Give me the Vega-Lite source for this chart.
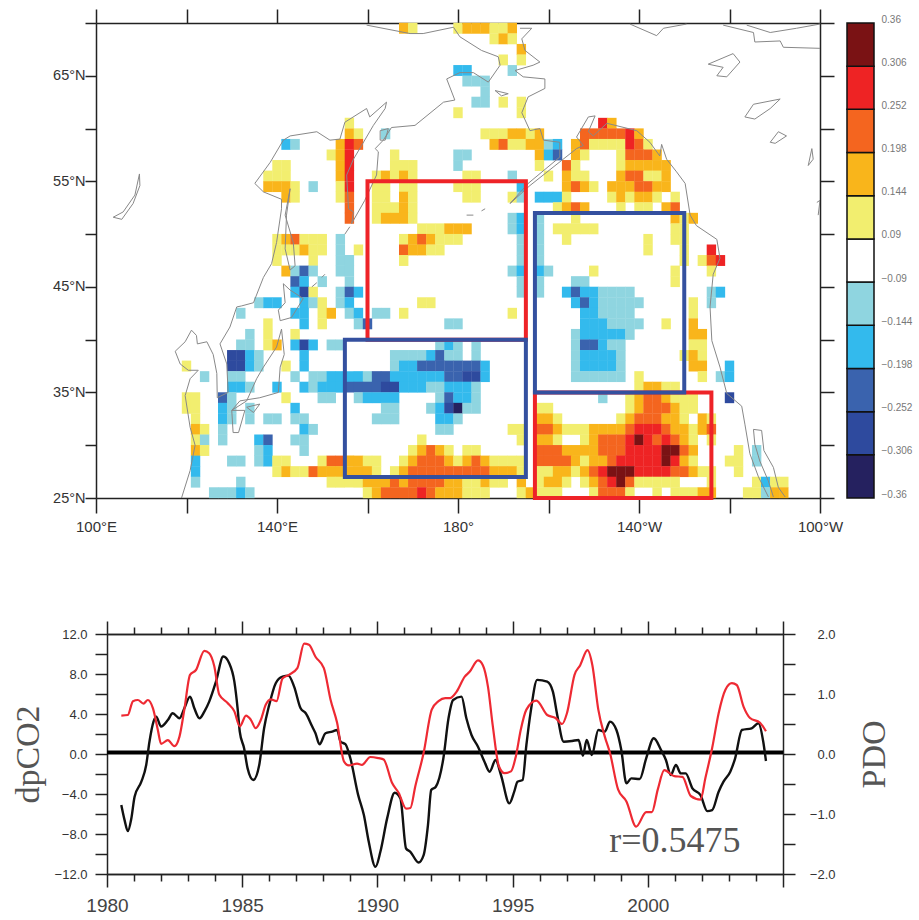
{"$schema":"https://vega.github.io/schema/vega-lite/v6.json","background":"white","padding":{"left":11,"top":8,"right":5,"bottom":5},"bounds":"flush","columns":2,"spacing":{"row":136,"column":27},"config":{"view":{"stroke":null},"axis":{"grid":false,"title":null,"labelFont":"Liberation Sans","domainColor":"#222","tickColor":"#222","domainWidth":1.5,"tickWidth":1.5,"labelFlush":false,"labelOverlap":false,"labelBound":false}},
"concat":[{"width":724,"height":475,"resolve":{"axis":{"x":"independent","y":"independent"}},"layer":[
{"data":{"values":[
{"x":168,"y":69.5,"v":0.17},{"x":170,"y":69.5,"v":0.12},{"x":180,"y":69.5,"v":0.12},{"x":182,"y":69.5,"v":0.17},{"x":184,"y":69.5,"v":0.17},{"x":186,"y":69.5,"v":0.17},{"x":188,"y":69.5,"v":0.12},{"x":190,"y":69.5,"v":0.12},{"x":192,"y":69.5,"v":0.17},
{"x":188,"y":68.5,"v":0.12},{"x":190,"y":68.5,"v":0.17},{"x":192,"y":68.5,"v":0.12},{"x":194,"y":67.5,"v":0.17},{"x":190,"y":66.5,"v":0.12},{"x":194,"y":66.5,"v":0.12},
{"x":180,"y":65.5,"v":-0.17},{"x":182,"y":65.5,"v":-0.17},{"x":192,"y":65.5,"v":-0.12},{"x":182,"y":64.5,"v":-0.12},{"x":184,"y":64.5,"v":-0.12},{"x":186,"y":64.5,"v":-0.12},{"x":186,"y":63.5,"v":-0.12},{"x":184,"y":62.5,"v":-0.12},{"x":186,"y":62.5,"v":-0.12},{"x":190,"y":62.5,"v":0.12},{"x":194,"y":62.5,"v":0.12},{"x":180,"y":61.5,"v":0.12},{"x":194,"y":61.5,"v":0.12},
{"x":156,"y":60.5,"v":0.12},{"x":212,"y":60.5,"v":0.28},{"x":214,"y":60.5,"v":0.17},
{"x":156,"y":59.5,"v":0.17},{"x":158,"y":59.5,"v":0.12},{"x":164,"y":59.5,"v":-0.12},{"x":186,"y":59.5,"v":0.12},{"x":188,"y":59.5,"v":0.12},{"x":190,"y":59.5,"v":0.12},{"x":192,"y":59.5,"v":0.17},{"x":194,"y":59.5,"v":0.17},{"x":196,"y":59.5,"v":0.12},{"x":198,"y":59.5,"v":0.17},{"x":208,"y":59.5,"v":0.22},{"x":210,"y":59.5,"v":0.22},{"x":212,"y":59.5,"v":0.22},{"x":214,"y":59.5,"v":0.22},{"x":216,"y":59.5,"v":0.22},{"x":218,"y":59.5,"v":0.28},{"x":220,"y":59.5,"v":0.17},
{"x":142,"y":58.5,"v":-0.17},{"x":144,"y":58.5,"v":-0.12},{"x":154,"y":58.5,"v":0.17},{"x":156,"y":58.5,"v":0.28},{"x":158,"y":58.5,"v":0.22},{"x":188,"y":58.5,"v":0.17},{"x":190,"y":58.5,"v":0.22},{"x":192,"y":58.5,"v":0.12},{"x":194,"y":58.5,"v":0.12},{"x":196,"y":58.5,"v":0.17},{"x":198,"y":58.5,"v":0.17},{"x":200,"y":58.5,"v":-0.12},{"x":202,"y":58.5,"v":-0.17},{"x":206,"y":58.5,"v":0.17},{"x":208,"y":58.5,"v":0.22},{"x":210,"y":58.5,"v":0.12},{"x":212,"y":58.5,"v":0.12},{"x":214,"y":58.5,"v":0.12},{"x":216,"y":58.5,"v":0.12},{"x":218,"y":58.5,"v":0.28},{"x":220,"y":58.5,"v":0.22},{"x":222,"y":58.5,"v":0.12},
{"x":152,"y":57.5,"v":0.12},{"x":154,"y":57.5,"v":0.17},{"x":156,"y":57.5,"v":0.28},{"x":166,"y":57.5,"v":0.12},{"x":180,"y":57.5,"v":-0.12},{"x":182,"y":57.5,"v":-0.12},{"x":198,"y":57.5,"v":0.17},{"x":200,"y":57.5,"v":-0.17},{"x":202,"y":57.5,"v":-0.22},{"x":206,"y":57.5,"v":0.17},{"x":208,"y":57.5,"v":0.12},{"x":216,"y":57.5,"v":0.12},{"x":218,"y":57.5,"v":0.22},{"x":220,"y":57.5,"v":0.22},{"x":222,"y":57.5,"v":0.22},{"x":224,"y":57.5,"v":0.17},
{"x":140,"y":56.5,"v":0.12},{"x":142,"y":56.5,"v":0.12},{"x":154,"y":56.5,"v":0.17},{"x":156,"y":56.5,"v":0.28},{"x":166,"y":56.5,"v":0.12},{"x":168,"y":56.5,"v":0.12},{"x":170,"y":56.5,"v":0.12},{"x":180,"y":56.5,"v":-0.12},{"x":198,"y":56.5,"v":0.12},{"x":204,"y":56.5,"v":0.22},{"x":206,"y":56.5,"v":0.12},{"x":216,"y":56.5,"v":0.12},{"x":218,"y":56.5,"v":0.17},{"x":220,"y":56.5,"v":0.17},{"x":222,"y":56.5,"v":0.17},{"x":224,"y":56.5,"v":0.17},{"x":226,"y":56.5,"v":0.17},
{"x":138,"y":55.5,"v":0.12},{"x":140,"y":55.5,"v":0.12},{"x":142,"y":55.5,"v":0.12},{"x":154,"y":55.5,"v":0.17},{"x":156,"y":55.5,"v":0.28},{"x":162,"y":55.5,"v":0.12},{"x":164,"y":55.5,"v":0.17},{"x":166,"y":55.5,"v":0.12},{"x":168,"y":55.5,"v":0.17},{"x":170,"y":55.5,"v":0.12},{"x":182,"y":55.5,"v":0.12},{"x":184,"y":55.5,"v":0.12},{"x":192,"y":55.5,"v":-0.12},{"x":200,"y":55.5,"v":0.12},{"x":204,"y":55.5,"v":0.17},{"x":206,"y":55.5,"v":0.12},{"x":208,"y":55.5,"v":0.12},{"x":216,"y":55.5,"v":0.17},{"x":218,"y":55.5,"v":0.22},{"x":220,"y":55.5,"v":0.22},{"x":222,"y":55.5,"v":0.12},{"x":224,"y":55.5,"v":0.12},{"x":226,"y":55.5,"v":0.17},
{"x":138,"y":54.5,"v":0.17},{"x":140,"y":54.5,"v":0.17},{"x":142,"y":54.5,"v":0.17},{"x":144,"y":54.5,"v":0.12},{"x":148,"y":54.5,"v":-0.12},{"x":154,"y":54.5,"v":0.12},{"x":156,"y":54.5,"v":0.28},{"x":162,"y":54.5,"v":0.12},{"x":164,"y":54.5,"v":0.12},{"x":168,"y":54.5,"v":0.12},{"x":170,"y":54.5,"v":0.12},{"x":180,"y":54.5,"v":0.12},{"x":182,"y":54.5,"v":0.12},{"x":184,"y":54.5,"v":0.12},{"x":194,"y":54.5,"v":-0.17},{"x":204,"y":54.5,"v":0.17},{"x":206,"y":54.5,"v":0.22},{"x":208,"y":54.5,"v":0.17},{"x":210,"y":54.5,"v":0.12},{"x":214,"y":54.5,"v":0.17},{"x":216,"y":54.5,"v":0.17},{"x":218,"y":54.5,"v":0.17},{"x":220,"y":54.5,"v":0.22},{"x":222,"y":54.5,"v":0.22},{"x":224,"y":54.5,"v":0.17},{"x":226,"y":54.5,"v":0.17},
{"x":142,"y":53.5,"v":0.17},{"x":144,"y":53.5,"v":0.12},{"x":154,"y":53.5,"v":0.12},{"x":156,"y":53.5,"v":0.22},{"x":162,"y":53.5,"v":0.12},{"x":164,"y":53.5,"v":0.12},{"x":168,"y":53.5,"v":0.17},{"x":170,"y":53.5,"v":0.12},{"x":182,"y":53.5,"v":0.12},{"x":184,"y":53.5,"v":0.12},{"x":192,"y":53.5,"v":0.12},{"x":194,"y":53.5,"v":-0.12},{"x":198,"y":53.5,"v":-0.17},{"x":200,"y":53.5,"v":-0.17},{"x":202,"y":53.5,"v":-0.17},{"x":204,"y":53.5,"v":0.12},{"x":214,"y":53.5,"v":0.12},{"x":216,"y":53.5,"v":0.17},{"x":218,"y":53.5,"v":0.12},{"x":220,"y":53.5,"v":0.17},{"x":222,"y":53.5,"v":0.17},{"x":224,"y":53.5,"v":0.12},{"x":228,"y":53.5,"v":0.12},
{"x":156,"y":52.5,"v":0.22},{"x":162,"y":52.5,"v":0.12},{"x":164,"y":52.5,"v":0.12},{"x":166,"y":52.5,"v":0.12},{"x":168,"y":52.5,"v":0.17},{"x":170,"y":52.5,"v":0.12},{"x":202,"y":52.5,"v":0.12},{"x":204,"y":52.5,"v":0.17},{"x":206,"y":52.5,"v":0.22},{"x":208,"y":52.5,"v":0.17},{"x":216,"y":52.5,"v":0.12},{"x":220,"y":52.5,"v":0.12},{"x":222,"y":52.5,"v":0.12},{"x":226,"y":52.5,"v":0.17},{"x":228,"y":52.5,"v":0.22},
{"x":156,"y":51.5,"v":0.22},{"x":162,"y":51.5,"v":0.12},{"x":164,"y":51.5,"v":0.17},{"x":166,"y":51.5,"v":0.17},{"x":168,"y":51.5,"v":0.17},{"x":170,"y":51.5,"v":0.12},{"x":192,"y":51.5,"v":-0.12},{"x":194,"y":51.5,"v":-0.17},{"x":198,"y":51.5,"v":-0.12},{"x":206,"y":51.5,"v":0.12},{"x":228,"y":51.5,"v":0.17},{"x":230,"y":51.5,"v":0.12},{"x":232,"y":51.5,"v":0.17},
{"x":172,"y":50.5,"v":0.12},{"x":174,"y":50.5,"v":0.12},{"x":176,"y":50.5,"v":0.12},{"x":178,"y":50.5,"v":0.17},{"x":180,"y":50.5,"v":0.17},{"x":182,"y":50.5,"v":0.17},{"x":192,"y":50.5,"v":-0.12},{"x":194,"y":50.5,"v":-0.17},{"x":198,"y":50.5,"v":-0.12},{"x":202,"y":50.5,"v":0.12},{"x":204,"y":50.5,"v":0.12},{"x":206,"y":50.5,"v":0.12},{"x":208,"y":50.5,"v":0.12},{"x":210,"y":50.5,"v":0.12},{"x":228,"y":50.5,"v":0.12},{"x":230,"y":50.5,"v":0.12},
{"x":140,"y":49.5,"v":0.12},{"x":142,"y":49.5,"v":0.17},{"x":144,"y":49.5,"v":0.22},{"x":146,"y":49.5,"v":0.12},{"x":148,"y":49.5,"v":0.12},{"x":150,"y":49.5,"v":0.12},{"x":154,"y":49.5,"v":-0.12},{"x":168,"y":49.5,"v":0.12},{"x":170,"y":49.5,"v":0.17},{"x":172,"y":49.5,"v":0.22},{"x":174,"y":49.5,"v":0.17},{"x":176,"y":49.5,"v":0.12},{"x":178,"y":49.5,"v":0.12},{"x":180,"y":49.5,"v":0.12},{"x":194,"y":49.5,"v":-0.12},{"x":198,"y":49.5,"v":-0.12},{"x":204,"y":49.5,"v":0.12},{"x":222,"y":49.5,"v":0.12},{"x":228,"y":49.5,"v":0.12},{"x":230,"y":49.5,"v":0.12},
{"x":140,"y":48.5,"v":0.12},{"x":142,"y":48.5,"v":0.12},{"x":144,"y":48.5,"v":0.12},{"x":146,"y":48.5,"v":0.17},{"x":148,"y":48.5,"v":0.12},{"x":150,"y":48.5,"v":0.12},{"x":154,"y":48.5,"v":-0.12},{"x":158,"y":48.5,"v":0.12},{"x":168,"y":48.5,"v":0.22},{"x":170,"y":48.5,"v":0.17},{"x":172,"y":48.5,"v":0.17},{"x":174,"y":48.5,"v":0.12},{"x":176,"y":48.5,"v":0.12},{"x":194,"y":48.5,"v":-0.12},{"x":198,"y":48.5,"v":-0.12},{"x":222,"y":48.5,"v":0.12},{"x":230,"y":48.5,"v":0.12},{"x":236,"y":48.5,"v":0.28},
{"x":140,"y":47.5,"v":0.12},{"x":148,"y":47.5,"v":0.12},{"x":154,"y":47.5,"v":-0.12},{"x":156,"y":47.5,"v":-0.12},{"x":168,"y":47.5,"v":0.12},{"x":194,"y":47.5,"v":-0.12},{"x":198,"y":47.5,"v":-0.12},{"x":230,"y":47.5,"v":0.12},{"x":234,"y":47.5,"v":0.12},{"x":236,"y":47.5,"v":0.22},{"x":238,"y":47.5,"v":0.28},
{"x":142,"y":46.5,"v":0.17},{"x":144,"y":46.5,"v":-0.12},{"x":146,"y":46.5,"v":-0.22},{"x":148,"y":46.5,"v":-0.12},{"x":154,"y":46.5,"v":-0.12},{"x":156,"y":46.5,"v":-0.12},{"x":192,"y":46.5,"v":-0.12},{"x":194,"y":46.5,"v":-0.17},{"x":198,"y":46.5,"v":-0.17},{"x":200,"y":46.5,"v":-0.12},{"x":210,"y":46.5,"v":0.12},{"x":228,"y":46.5,"v":0.12},{"x":236,"y":46.5,"v":0.12},
{"x":144,"y":45.5,"v":-0.22},{"x":146,"y":45.5,"v":-0.17},{"x":150,"y":45.5,"v":-0.12},{"x":156,"y":45.5,"v":-0.12},{"x":194,"y":45.5,"v":-0.12},{"x":198,"y":45.5,"v":-0.12},{"x":206,"y":45.5,"v":-0.12},{"x":208,"y":45.5,"v":-0.12},{"x":228,"y":45.5,"v":0.12},
{"x":144,"y":44.5,"v":-0.17},{"x":146,"y":44.5,"v":-0.28},{"x":148,"y":44.5,"v":0.12},{"x":154,"y":44.5,"v":-0.12},{"x":156,"y":44.5,"v":-0.22},{"x":158,"y":44.5,"v":-0.17},{"x":194,"y":44.5,"v":-0.12},{"x":198,"y":44.5,"v":-0.12},{"x":204,"y":44.5,"v":-0.17},{"x":206,"y":44.5,"v":-0.22},{"x":208,"y":44.5,"v":-0.17},{"x":210,"y":44.5,"v":-0.17},{"x":212,"y":44.5,"v":-0.12},{"x":214,"y":44.5,"v":-0.12},{"x":216,"y":44.5,"v":-0.12},{"x":218,"y":44.5,"v":-0.12},{"x":236,"y":44.5,"v":-0.12},{"x":238,"y":44.5,"v":-0.17},
{"x":136,"y":43.5,"v":-0.12},{"x":138,"y":43.5,"v":-0.17},{"x":140,"y":43.5,"v":-0.17},{"x":146,"y":43.5,"v":-0.17},{"x":148,"y":43.5,"v":-0.12},{"x":150,"y":43.5,"v":0.12},{"x":154,"y":43.5,"v":-0.12},{"x":156,"y":43.5,"v":-0.17},{"x":172,"y":43.5,"v":0.12},{"x":174,"y":43.5,"v":0.12},{"x":206,"y":43.5,"v":-0.17},{"x":208,"y":43.5,"v":-0.22},{"x":210,"y":43.5,"v":-0.17},{"x":212,"y":43.5,"v":-0.12},{"x":214,"y":43.5,"v":-0.12},{"x":216,"y":43.5,"v":-0.12},{"x":218,"y":43.5,"v":-0.12},{"x":220,"y":43.5,"v":-0.12},{"x":232,"y":43.5,"v":0.12},{"x":236,"y":43.5,"v":-0.12},
{"x":132,"y":42.5,"v":-0.12},{"x":144,"y":42.5,"v":-0.17},{"x":146,"y":42.5,"v":-0.17},{"x":150,"y":42.5,"v":0.12},{"x":152,"y":42.5,"v":0.17},{"x":156,"y":42.5,"v":-0.12},{"x":158,"y":42.5,"v":-0.17},{"x":162,"y":42.5,"v":-0.12},{"x":164,"y":42.5,"v":-0.12},{"x":168,"y":42.5,"v":0.12},{"x":192,"y":42.5,"v":0.12},{"x":208,"y":42.5,"v":-0.17},{"x":210,"y":42.5,"v":-0.17},{"x":212,"y":42.5,"v":-0.12},{"x":214,"y":42.5,"v":-0.12},{"x":216,"y":42.5,"v":-0.12},{"x":218,"y":42.5,"v":-0.12},{"x":232,"y":42.5,"v":0.12},
{"x":138,"y":41.5,"v":0.12},{"x":146,"y":41.5,"v":-0.17},{"x":150,"y":41.5,"v":0.12},{"x":158,"y":41.5,"v":-0.12},{"x":160,"y":41.5,"v":-0.22},{"x":178,"y":41.5,"v":-0.12},{"x":180,"y":41.5,"v":-0.12},{"x":208,"y":41.5,"v":-0.17},{"x":210,"y":41.5,"v":-0.17},{"x":212,"y":41.5,"v":-0.17},{"x":214,"y":41.5,"v":-0.12},{"x":216,"y":41.5,"v":-0.12},{"x":218,"y":41.5,"v":-0.12},{"x":220,"y":41.5,"v":-0.12},{"x":226,"y":41.5,"v":0.12},{"x":232,"y":41.5,"v":0.17},
{"x":134,"y":40.5,"v":-0.12},{"x":138,"y":40.5,"v":0.12},{"x":144,"y":40.5,"v":0.12},{"x":206,"y":40.5,"v":-0.12},{"x":208,"y":40.5,"v":-0.17},{"x":210,"y":40.5,"v":-0.17},{"x":212,"y":40.5,"v":-0.17},{"x":214,"y":40.5,"v":-0.17},{"x":216,"y":40.5,"v":-0.17},{"x":218,"y":40.5,"v":-0.12},{"x":232,"y":40.5,"v":0.17},{"x":234,"y":40.5,"v":0.17},
{"x":132,"y":39.5,"v":-0.12},{"x":134,"y":39.5,"v":-0.12},{"x":138,"y":39.5,"v":0.12},{"x":140,"y":39.5,"v":0.17},{"x":144,"y":39.5,"v":-0.17},{"x":146,"y":39.5,"v":-0.28},{"x":148,"y":39.5,"v":-0.17},{"x":152,"y":39.5,"v":-0.12},{"x":154,"y":39.5,"v":-0.12},{"x":176,"y":39.5,"v":-0.12},{"x":178,"y":39.5,"v":-0.17},{"x":180,"y":39.5,"v":-0.12},{"x":184,"y":39.5,"v":-0.12},{"x":206,"y":39.5,"v":-0.12},{"x":208,"y":39.5,"v":-0.22},{"x":210,"y":39.5,"v":-0.22},{"x":212,"y":39.5,"v":-0.17},{"x":214,"y":39.5,"v":-0.12},{"x":216,"y":39.5,"v":-0.12},{"x":232,"y":39.5,"v":0.12},{"x":234,"y":39.5,"v":0.12},
{"x":130,"y":38.5,"v":-0.28},{"x":132,"y":38.5,"v":-0.28},{"x":134,"y":38.5,"v":-0.17},{"x":136,"y":38.5,"v":-0.12},{"x":146,"y":38.5,"v":-0.17},{"x":166,"y":38.5,"v":-0.12},{"x":168,"y":38.5,"v":-0.12},{"x":170,"y":38.5,"v":-0.12},{"x":172,"y":38.5,"v":-0.12},{"x":174,"y":38.5,"v":-0.17},{"x":176,"y":38.5,"v":-0.22},{"x":178,"y":38.5,"v":-0.12},{"x":180,"y":38.5,"v":-0.12},{"x":184,"y":38.5,"v":-0.12},{"x":206,"y":38.5,"v":-0.12},{"x":208,"y":38.5,"v":-0.17},{"x":210,"y":38.5,"v":-0.17},{"x":212,"y":38.5,"v":-0.17},{"x":214,"y":38.5,"v":-0.17},{"x":216,"y":38.5,"v":-0.12},{"x":230,"y":38.5,"v":0.12},{"x":232,"y":38.5,"v":0.17},{"x":234,"y":38.5,"v":0.12},
{"x":120,"y":37.5,"v":0.12},{"x":130,"y":37.5,"v":-0.28},{"x":132,"y":37.5,"v":-0.28},{"x":134,"y":37.5,"v":-0.17},{"x":136,"y":37.5,"v":-0.12},{"x":142,"y":37.5,"v":0.12},{"x":146,"y":37.5,"v":-0.17},{"x":166,"y":37.5,"v":-0.12},{"x":168,"y":37.5,"v":-0.17},{"x":170,"y":37.5,"v":-0.17},{"x":172,"y":37.5,"v":-0.22},{"x":174,"y":37.5,"v":-0.22},{"x":176,"y":37.5,"v":-0.22},{"x":178,"y":37.5,"v":-0.22},{"x":180,"y":37.5,"v":-0.22},{"x":182,"y":37.5,"v":-0.22},{"x":184,"y":37.5,"v":-0.22},{"x":186,"y":37.5,"v":-0.17},{"x":206,"y":37.5,"v":-0.12},{"x":208,"y":37.5,"v":-0.17},{"x":210,"y":37.5,"v":-0.17},{"x":212,"y":37.5,"v":-0.17},{"x":214,"y":37.5,"v":-0.17},{"x":216,"y":37.5,"v":-0.12},{"x":232,"y":37.5,"v":0.17},{"x":234,"y":37.5,"v":0.17},{"x":240,"y":37.5,"v":-0.17},
{"x":124,"y":36.5,"v":-0.12},{"x":130,"y":36.5,"v":-0.12},{"x":132,"y":36.5,"v":-0.12},{"x":144,"y":36.5,"v":-0.12},{"x":148,"y":36.5,"v":-0.12},{"x":150,"y":36.5,"v":-0.12},{"x":152,"y":36.5,"v":-0.17},{"x":154,"y":36.5,"v":-0.17},{"x":156,"y":36.5,"v":-0.17},{"x":158,"y":36.5,"v":-0.17},{"x":160,"y":36.5,"v":-0.12},{"x":162,"y":36.5,"v":-0.22},{"x":164,"y":36.5,"v":-0.22},{"x":166,"y":36.5,"v":-0.17},{"x":168,"y":36.5,"v":-0.17},{"x":170,"y":36.5,"v":-0.17},{"x":172,"y":36.5,"v":-0.17},{"x":174,"y":36.5,"v":-0.17},{"x":176,"y":36.5,"v":-0.17},{"x":178,"y":36.5,"v":-0.22},{"x":180,"y":36.5,"v":-0.22},{"x":182,"y":36.5,"v":-0.28},{"x":184,"y":36.5,"v":-0.28},{"x":186,"y":36.5,"v":-0.17},{"x":206,"y":36.5,"v":-0.12},{"x":208,"y":36.5,"v":-0.12},{"x":210,"y":36.5,"v":-0.12},{"x":212,"y":36.5,"v":-0.12},{"x":214,"y":36.5,"v":-0.12},{"x":216,"y":36.5,"v":-0.12},{"x":220,"y":36.5,"v":0.12},{"x":234,"y":36.5,"v":0.12},{"x":238,"y":36.5,"v":-0.12},{"x":240,"y":36.5,"v":-0.17},
{"x":130,"y":35.5,"v":-0.17},{"x":132,"y":35.5,"v":-0.17},{"x":134,"y":35.5,"v":-0.12},{"x":140,"y":35.5,"v":-0.17},{"x":146,"y":35.5,"v":-0.17},{"x":148,"y":35.5,"v":-0.12},{"x":150,"y":35.5,"v":-0.17},{"x":152,"y":35.5,"v":-0.17},{"x":154,"y":35.5,"v":-0.17},{"x":156,"y":35.5,"v":-0.22},{"x":158,"y":35.5,"v":-0.22},{"x":160,"y":35.5,"v":-0.22},{"x":162,"y":35.5,"v":-0.22},{"x":164,"y":35.5,"v":-0.28},{"x":166,"y":35.5,"v":-0.28},{"x":168,"y":35.5,"v":-0.17},{"x":170,"y":35.5,"v":-0.17},{"x":172,"y":35.5,"v":-0.17},{"x":174,"y":35.5,"v":-0.12},{"x":176,"y":35.5,"v":-0.12},{"x":178,"y":35.5,"v":-0.17},{"x":180,"y":35.5,"v":-0.17},{"x":182,"y":35.5,"v":-0.17},{"x":184,"y":35.5,"v":-0.12},{"x":220,"y":35.5,"v":0.12},{"x":222,"y":35.5,"v":0.17},{"x":224,"y":35.5,"v":0.17},{"x":226,"y":35.5,"v":0.12},{"x":228,"y":35.5,"v":0.12},
{"x":120,"y":34.5,"v":0.12},{"x":122,"y":34.5,"v":0.12},{"x":128,"y":34.5,"v":-0.22},{"x":130,"y":34.5,"v":-0.12},{"x":142,"y":34.5,"v":0.12},{"x":150,"y":34.5,"v":-0.12},{"x":152,"y":34.5,"v":-0.12},{"x":158,"y":34.5,"v":-0.12},{"x":160,"y":34.5,"v":-0.17},{"x":162,"y":34.5,"v":-0.17},{"x":164,"y":34.5,"v":-0.17},{"x":166,"y":34.5,"v":-0.17},{"x":176,"y":34.5,"v":-0.12},{"x":178,"y":34.5,"v":-0.22},{"x":180,"y":34.5,"v":-0.17},{"x":182,"y":34.5,"v":-0.17},{"x":184,"y":34.5,"v":-0.12},{"x":212,"y":34.5,"v":-0.12},{"x":218,"y":34.5,"v":0.12},{"x":220,"y":34.5,"v":0.17},{"x":222,"y":34.5,"v":0.22},{"x":224,"y":34.5,"v":0.22},{"x":226,"y":34.5,"v":0.17},{"x":228,"y":34.5,"v":0.12},{"x":230,"y":34.5,"v":0.12},{"x":232,"y":34.5,"v":0.12},{"x":240,"y":34.5,"v":-0.28},
{"x":120,"y":33.5,"v":0.12},{"x":122,"y":33.5,"v":0.12},{"x":128,"y":33.5,"v":-0.17},{"x":130,"y":33.5,"v":-0.12},{"x":134,"y":33.5,"v":-0.12},{"x":144,"y":33.5,"v":-0.17},{"x":164,"y":33.5,"v":-0.12},{"x":166,"y":33.5,"v":-0.12},{"x":174,"y":33.5,"v":-0.12},{"x":176,"y":33.5,"v":-0.17},{"x":178,"y":33.5,"v":-0.28},{"x":180,"y":33.5,"v":-0.33},{"x":182,"y":33.5,"v":-0.12},{"x":184,"y":33.5,"v":-0.12},{"x":198,"y":33.5,"v":0.12},{"x":200,"y":33.5,"v":0.12},{"x":218,"y":33.5,"v":0.12},{"x":220,"y":33.5,"v":0.17},{"x":222,"y":33.5,"v":0.22},{"x":224,"y":33.5,"v":0.22},{"x":226,"y":33.5,"v":0.22},{"x":228,"y":33.5,"v":0.17},{"x":230,"y":33.5,"v":0.12},{"x":232,"y":33.5,"v":0.12},
{"x":122,"y":32.5,"v":0.12},{"x":128,"y":32.5,"v":-0.17},{"x":130,"y":32.5,"v":-0.12},{"x":134,"y":32.5,"v":-0.12},{"x":138,"y":32.5,"v":-0.12},{"x":140,"y":32.5,"v":-0.12},{"x":144,"y":32.5,"v":-0.12},{"x":146,"y":32.5,"v":-0.12},{"x":162,"y":32.5,"v":-0.12},{"x":164,"y":32.5,"v":-0.12},{"x":166,"y":32.5,"v":-0.12},{"x":176,"y":32.5,"v":-0.17},{"x":178,"y":32.5,"v":-0.17},{"x":180,"y":32.5,"v":-0.12},{"x":198,"y":32.5,"v":0.17},{"x":200,"y":32.5,"v":0.17},{"x":202,"y":32.5,"v":0.12},{"x":216,"y":32.5,"v":0.12},{"x":218,"y":32.5,"v":0.17},{"x":220,"y":32.5,"v":0.22},{"x":222,"y":32.5,"v":0.22},{"x":224,"y":32.5,"v":0.22},{"x":226,"y":32.5,"v":0.17},{"x":228,"y":32.5,"v":0.17},{"x":230,"y":32.5,"v":0.12},{"x":234,"y":32.5,"v":0.17},{"x":236,"y":32.5,"v":0.12},
{"x":122,"y":31.5,"v":0.17},{"x":124,"y":31.5,"v":0.12},{"x":128,"y":31.5,"v":-0.12},{"x":146,"y":31.5,"v":-0.17},{"x":148,"y":31.5,"v":-0.12},{"x":176,"y":31.5,"v":-0.12},{"x":178,"y":31.5,"v":-0.12},{"x":192,"y":31.5,"v":0.12},{"x":194,"y":31.5,"v":0.12},{"x":198,"y":31.5,"v":0.22},{"x":200,"y":31.5,"v":0.22},{"x":202,"y":31.5,"v":0.17},{"x":204,"y":31.5,"v":0.12},{"x":206,"y":31.5,"v":0.12},{"x":208,"y":31.5,"v":0.12},{"x":210,"y":31.5,"v":0.17},{"x":212,"y":31.5,"v":0.17},{"x":214,"y":31.5,"v":0.17},{"x":216,"y":31.5,"v":0.17},{"x":218,"y":31.5,"v":0.22},{"x":220,"y":31.5,"v":0.28},{"x":222,"y":31.5,"v":0.28},{"x":224,"y":31.5,"v":0.28},{"x":226,"y":31.5,"v":0.22},{"x":228,"y":31.5,"v":0.17},{"x":230,"y":31.5,"v":0.17},{"x":232,"y":31.5,"v":0.12},{"x":234,"y":31.5,"v":0.17},{"x":236,"y":31.5,"v":0.22},
{"x":122,"y":30.5,"v":0.12},{"x":124,"y":30.5,"v":-0.12},{"x":128,"y":30.5,"v":-0.12},{"x":136,"y":30.5,"v":-0.17},{"x":138,"y":30.5,"v":-0.22},{"x":144,"y":30.5,"v":-0.12},{"x":146,"y":30.5,"v":-0.12},{"x":172,"y":30.5,"v":0.12},{"x":194,"y":30.5,"v":0.12},{"x":198,"y":30.5,"v":0.17},{"x":200,"y":30.5,"v":0.17},{"x":202,"y":30.5,"v":0.12},{"x":208,"y":30.5,"v":0.12},{"x":210,"y":30.5,"v":0.17},{"x":212,"y":30.5,"v":0.22},{"x":214,"y":30.5,"v":0.22},{"x":216,"y":30.5,"v":0.22},{"x":218,"y":30.5,"v":0.28},{"x":220,"y":30.5,"v":0.33},{"x":222,"y":30.5,"v":0.28},{"x":224,"y":30.5,"v":0.22},{"x":226,"y":30.5,"v":0.28},{"x":228,"y":30.5,"v":0.22},{"x":230,"y":30.5,"v":0.17},{"x":232,"y":30.5,"v":0.12},{"x":236,"y":30.5,"v":0.12},
{"x":122,"y":29.5,"v":0.17},{"x":124,"y":29.5,"v":0.12},{"x":136,"y":29.5,"v":-0.12},{"x":138,"y":29.5,"v":-0.17},{"x":146,"y":29.5,"v":-0.12},{"x":170,"y":29.5,"v":0.12},{"x":172,"y":29.5,"v":0.17},{"x":174,"y":29.5,"v":0.22},{"x":176,"y":29.5,"v":0.17},{"x":178,"y":29.5,"v":0.12},{"x":182,"y":29.5,"v":0.12},{"x":184,"y":29.5,"v":0.12},{"x":198,"y":29.5,"v":0.22},{"x":200,"y":29.5,"v":0.22},{"x":202,"y":29.5,"v":0.22},{"x":204,"y":29.5,"v":0.17},{"x":206,"y":29.5,"v":0.17},{"x":208,"y":29.5,"v":0.17},{"x":210,"y":29.5,"v":0.17},{"x":212,"y":29.5,"v":0.22},{"x":214,"y":29.5,"v":0.22},{"x":216,"y":29.5,"v":0.22},{"x":218,"y":29.5,"v":0.28},{"x":220,"y":29.5,"v":0.28},{"x":222,"y":29.5,"v":0.28},{"x":224,"y":29.5,"v":0.28},{"x":226,"y":29.5,"v":0.33},{"x":228,"y":29.5,"v":0.33},{"x":230,"y":29.5,"v":0.22},{"x":232,"y":29.5,"v":0.17},{"x":242,"y":29.5,"v":0.12},{"x":246,"y":29.5,"v":-0.12},
{"x":122,"y":28.5,"v":-0.17},{"x":130,"y":28.5,"v":-0.12},{"x":132,"y":28.5,"v":-0.12},{"x":136,"y":28.5,"v":-0.12},{"x":138,"y":28.5,"v":-0.17},{"x":140,"y":28.5,"v":0.12},{"x":142,"y":28.5,"v":0.12},{"x":150,"y":28.5,"v":0.12},{"x":152,"y":28.5,"v":0.22},{"x":154,"y":28.5,"v":0.22},{"x":156,"y":28.5,"v":0.17},{"x":158,"y":28.5,"v":0.17},{"x":160,"y":28.5,"v":0.12},{"x":162,"y":28.5,"v":0.12},{"x":168,"y":28.5,"v":0.12},{"x":170,"y":28.5,"v":0.17},{"x":172,"y":28.5,"v":0.22},{"x":174,"y":28.5,"v":0.22},{"x":176,"y":28.5,"v":0.22},{"x":178,"y":28.5,"v":0.17},{"x":180,"y":28.5,"v":0.12},{"x":182,"y":28.5,"v":0.17},{"x":184,"y":28.5,"v":0.22},{"x":186,"y":28.5,"v":0.17},{"x":188,"y":28.5,"v":0.12},{"x":190,"y":28.5,"v":0.12},{"x":192,"y":28.5,"v":0.12},{"x":194,"y":28.5,"v":0.12},{"x":198,"y":28.5,"v":0.22},{"x":200,"y":28.5,"v":0.22},{"x":202,"y":28.5,"v":0.22},{"x":204,"y":28.5,"v":0.22},{"x":206,"y":28.5,"v":0.17},{"x":208,"y":28.5,"v":0.12},{"x":210,"y":28.5,"v":0.17},{"x":212,"y":28.5,"v":0.17},{"x":214,"y":28.5,"v":0.22},{"x":216,"y":28.5,"v":0.28},{"x":218,"y":28.5,"v":0.28},{"x":220,"y":28.5,"v":0.28},{"x":222,"y":28.5,"v":0.28},{"x":224,"y":28.5,"v":0.28},{"x":226,"y":28.5,"v":0.33},{"x":228,"y":28.5,"v":0.28},{"x":230,"y":28.5,"v":0.17},{"x":232,"y":28.5,"v":0.12},{"x":240,"y":28.5,"v":0.12},{"x":242,"y":28.5,"v":0.12},{"x":246,"y":28.5,"v":-0.12},
{"x":122,"y":27.5,"v":-0.17},{"x":140,"y":27.5,"v":0.12},{"x":142,"y":27.5,"v":0.17},{"x":144,"y":27.5,"v":0.12},{"x":146,"y":27.5,"v":0.12},{"x":148,"y":27.5,"v":0.22},{"x":150,"y":27.5,"v":0.17},{"x":152,"y":27.5,"v":0.17},{"x":154,"y":27.5,"v":0.17},{"x":156,"y":27.5,"v":0.17},{"x":158,"y":27.5,"v":0.17},{"x":160,"y":27.5,"v":0.17},{"x":162,"y":27.5,"v":0.12},{"x":166,"y":27.5,"v":0.12},{"x":168,"y":27.5,"v":0.17},{"x":170,"y":27.5,"v":0.22},{"x":172,"y":27.5,"v":0.22},{"x":174,"y":27.5,"v":0.22},{"x":176,"y":27.5,"v":0.22},{"x":178,"y":27.5,"v":0.22},{"x":180,"y":27.5,"v":0.22},{"x":182,"y":27.5,"v":0.22},{"x":184,"y":27.5,"v":0.22},{"x":186,"y":27.5,"v":0.22},{"x":188,"y":27.5,"v":0.17},{"x":190,"y":27.5,"v":0.17},{"x":192,"y":27.5,"v":0.17},{"x":194,"y":27.5,"v":0.12},{"x":198,"y":27.5,"v":0.12},{"x":200,"y":27.5,"v":0.12},{"x":202,"y":27.5,"v":0.17},{"x":204,"y":27.5,"v":0.17},{"x":206,"y":27.5,"v":0.12},{"x":208,"y":27.5,"v":0.17},{"x":210,"y":27.5,"v":0.22},{"x":212,"y":27.5,"v":0.28},{"x":214,"y":27.5,"v":0.33},{"x":216,"y":27.5,"v":0.33},{"x":218,"y":27.5,"v":0.33},{"x":220,"y":27.5,"v":0.28},{"x":222,"y":27.5,"v":0.28},{"x":224,"y":27.5,"v":0.28},{"x":226,"y":27.5,"v":0.28},{"x":228,"y":27.5,"v":0.22},{"x":230,"y":27.5,"v":0.22},{"x":232,"y":27.5,"v":0.17},{"x":234,"y":27.5,"v":0.12},{"x":236,"y":27.5,"v":0.12},{"x":242,"y":27.5,"v":0.12},
{"x":122,"y":26.5,"v":-0.12},{"x":132,"y":26.5,"v":-0.12},{"x":152,"y":26.5,"v":0.12},{"x":154,"y":26.5,"v":0.12},{"x":156,"y":26.5,"v":0.12},{"x":158,"y":26.5,"v":0.12},{"x":160,"y":26.5,"v":0.17},{"x":162,"y":26.5,"v":0.17},{"x":164,"y":26.5,"v":0.17},{"x":166,"y":26.5,"v":0.22},{"x":168,"y":26.5,"v":0.17},{"x":170,"y":26.5,"v":0.22},{"x":172,"y":26.5,"v":0.22},{"x":174,"y":26.5,"v":0.22},{"x":176,"y":26.5,"v":0.22},{"x":178,"y":26.5,"v":0.17},{"x":180,"y":26.5,"v":0.17},{"x":182,"y":26.5,"v":0.12},{"x":184,"y":26.5,"v":0.12},{"x":186,"y":26.5,"v":0.17},{"x":188,"y":26.5,"v":0.12},{"x":190,"y":26.5,"v":0.12},{"x":194,"y":26.5,"v":0.17},{"x":198,"y":26.5,"v":0.12},{"x":200,"y":26.5,"v":0.17},{"x":202,"y":26.5,"v":0.17},{"x":204,"y":26.5,"v":0.12},{"x":208,"y":26.5,"v":0.12},{"x":210,"y":26.5,"v":0.17},{"x":212,"y":26.5,"v":0.22},{"x":214,"y":26.5,"v":0.28},{"x":216,"y":26.5,"v":0.33},{"x":218,"y":26.5,"v":0.22},{"x":220,"y":26.5,"v":0.12},{"x":222,"y":26.5,"v":0.12},{"x":224,"y":26.5,"v":0.12},{"x":226,"y":26.5,"v":0.12},{"x":228,"y":26.5,"v":0.12},{"x":236,"y":26.5,"v":0.12},{"x":246,"y":26.5,"v":0.12},{"x":248,"y":26.5,"v":-0.17},{"x":250,"y":26.5,"v":0.12},{"x":252,"y":26.5,"v":0.12},
{"x":126,"y":25.5,"v":-0.12},{"x":128,"y":25.5,"v":-0.12},{"x":130,"y":25.5,"v":-0.12},{"x":132,"y":25.5,"v":-0.17},{"x":134,"y":25.5,"v":-0.12},{"x":160,"y":25.5,"v":0.12},{"x":162,"y":25.5,"v":0.17},{"x":164,"y":25.5,"v":0.22},{"x":166,"y":25.5,"v":0.22},{"x":168,"y":25.5,"v":0.22},{"x":170,"y":25.5,"v":0.22},{"x":172,"y":25.5,"v":0.28},{"x":174,"y":25.5,"v":0.22},{"x":176,"y":25.5,"v":0.17},{"x":178,"y":25.5,"v":0.17},{"x":180,"y":25.5,"v":0.17},{"x":182,"y":25.5,"v":0.12},{"x":184,"y":25.5,"v":0.12},{"x":186,"y":25.5,"v":0.12},{"x":194,"y":25.5,"v":0.12},{"x":196,"y":25.5,"v":0.17},{"x":198,"y":25.5,"v":0.12},{"x":200,"y":25.5,"v":0.12},{"x":202,"y":25.5,"v":0.12},{"x":210,"y":25.5,"v":0.12},{"x":212,"y":25.5,"v":0.22},{"x":214,"y":25.5,"v":0.22},{"x":216,"y":25.5,"v":0.22},{"x":218,"y":25.5,"v":0.12},{"x":224,"y":25.5,"v":0.12},{"x":228,"y":25.5,"v":0.12},{"x":230,"y":25.5,"v":0.12},{"x":232,"y":25.5,"v":0.12},{"x":234,"y":25.5,"v":0.17},{"x":236,"y":25.5,"v":0.17},{"x":244,"y":25.5,"v":0.12},{"x":246,"y":25.5,"v":0.12},{"x":248,"y":25.5,"v":-0.12},{"x":250,"y":25.5,"v":0.17},{"x":252,"y":25.5,"v":0.17}
]},"mark":{"type":"rect","width":9.4,"height":10.9},"encoding":{
"x":{"field":"x","type":"quantitative","scale":{"domain":[100,260],"nice":false,"zero":false},"axis":{"orient":"bottom","values":[100,120,140,160,180,200,220,240,260],"tickSize":15,"labelFontSize":15,"labelColor":"#333","labelPadding":6,"labelExpr":"datum.value==100?'100°E':datum.value==140?'140°E':datum.value==180?'180°':datum.value==220?'140°W':datum.value==260?'100°W':''"}},
"y":{"field":"y","type":"quantitative","scale":{"domain":[25,70],"nice":false,"zero":false},"axis":{"orient":"left","values":[25,30,35,40,45,50,55,60,65,70],"tickSize":11,"labelFontSize":14.5,"labelColor":"#333","labelPadding":0,"labelExpr":"datum.value%10==5?datum.value+'°N':''"}},
"color":{"field":"v","type":"quantitative","legend":null,"scale":{"type":"threshold","domain":[-0.306,-0.252,-0.198,-0.144,-0.09,0.09,0.144,0.198,0.252,0.306],"range":["#25215f","#2e4a9e","#3a63ae","#33baed","#8fd5e0","#ffffff","#f2ee6f","#f9b51b","#f4651f","#ee2324","#7a1214"]}}}},
{"data":{"values":[
{"g":"a","lon":118.9,"lat":25},{"g":"a","lon":120.8,"lat":27.6},{"g":"a","lon":121.9,"lat":30},{"g":"a","lon":120.8,"lat":31.7},{"g":"a","lon":119.7,"lat":34.7},{"g":"a","lon":120.8,"lat":36.3},{"g":"a","lon":122.6,"lat":37.1},{"g":"a","lon":120.4,"lat":37.1},{"g":"a","lon":118.6,"lat":37.7},{"g":"a","lon":117.5,"lat":38.9},{"g":"a","lon":119.7,"lat":39.8},{"g":"a","lon":121.1,"lat":40.9},{"g":"a","lon":122.2,"lat":40.4},{"g":"a","lon":122.4,"lat":39.6},{"g":"a","lon":124.5,"lat":39.8},{"g":"a","lon":125.9,"lat":38.6},{"g":"a","lon":126.7,"lat":36.8},{"g":"a","lon":126.8,"lat":34.5},{"g":"a","lon":129.2,"lat":35},{"g":"a","lon":128.9,"lat":37.7},{"g":"a","lon":127.4,"lat":39.6},{"g":"a","lon":129.6,"lat":41.2},{"g":"a","lon":131.1,"lat":43.1},{"g":"a","lon":132.2,"lat":43.2},{"g":"a","lon":134.8,"lat":43.5},{"g":"a","lon":137,"lat":45.9},{"g":"a","lon":138.8,"lat":47.2},{"g":"a","lon":139.9,"lat":49.2},{"g":"a","lon":141,"lat":52.4},{"g":"a","lon":141,"lat":53.3},{"g":"a","lon":137,"lat":54},{"g":"a","lon":135.1,"lat":54.8},{"g":"a","lon":138.5,"lat":56.8},{"g":"a","lon":141.4,"lat":58.9},{"g":"a","lon":142.9,"lat":59.3},{"g":"a","lon":148.8,"lat":59.7},{"g":"a","lon":151.7,"lat":58.9},{"g":"a","lon":153.9,"lat":59},{"g":"a","lon":155,"lat":60.6},{"g":"a","lon":159.8,"lat":61.9},{"g":"a","lon":160.5,"lat":61.1},{"g":"a","lon":164.2,"lat":62.5},{"g":"a","lon":163.9,"lat":61.9},{"g":"a","lon":161.3,"lat":60.3},{"g":"a","lon":158.7,"lat":58.4},{"g":"a","lon":156.9,"lat":57.1},{"g":"a","lon":155.4,"lat":55.6},{"g":"a","lon":155.8,"lat":52.4},{"g":"a","lon":156.9,"lat":52.1},{"g":"a","lon":156.5,"lat":51},{"g":"a","lon":159.4,"lat":53.2},{"g":"a","lon":162,"lat":55.6},{"g":"a","lon":162.4,"lat":57.8},{"g":"a","lon":161.7,"lat":58.1},{"g":"a","lon":163.5,"lat":58.9},{"g":"a","lon":165.3,"lat":60.1},{"g":"a","lon":170.5,"lat":60.3},{"g":"a","lon":176.8,"lat":62.5},{"g":"a","lon":179.3,"lat":62.7},{"g":"a","lon":177.5,"lat":64.7},{"g":"a","lon":180.4,"lat":65.3},{"g":"a","lon":183.4,"lat":65.3},{"g":"a","lon":186.7,"lat":64.4},{"g":"a","lon":189.3,"lat":66},{"g":"a","lon":188.9,"lat":66.8},{"g":"a","lon":185.2,"lat":67.4},{"g":"a","lon":180.4,"lat":68.7},{"g":"a","lon":179,"lat":69.6},{"g":"a","lon":172.3,"lat":69},{"g":"a","lon":169.4,"lat":69},{"g":"a","lon":159.8,"lat":69.8},
{"g":"b","lon":193.7,"lat":69.5},{"g":"b","lon":196.3,"lat":69.5},{"g":"b","lon":194.1,"lat":68.5},{"g":"b","lon":194.8,"lat":67.4},{"g":"b","lon":198.1,"lat":66.3},{"g":"b","lon":196.6,"lat":66},{"g":"b","lon":192.6,"lat":65.5},{"g":"b","lon":194.4,"lat":64.9},{"g":"b","lon":199.2,"lat":64.7},{"g":"b","lon":199.2,"lat":63.8},{"g":"b","lon":195.5,"lat":63},{"g":"b","lon":194.1,"lat":61.5},{"g":"b","lon":195.9,"lat":59.8},{"g":"b","lon":198.1,"lat":60},{"g":"b","lon":198.9,"lat":58.9},{"g":"b","lon":202.5,"lat":58.7},{"g":"b","lon":202.5,"lat":57.3},{"g":"b","lon":195.5,"lat":54.8},{"g":"b","lon":191.5,"lat":52.9},{"g":"b","lon":195.9,"lat":54.6},{"g":"b","lon":206.2,"lat":58.1},{"g":"b","lon":207.7,"lat":58.4},{"g":"b","lon":206.2,"lat":59.2},{"g":"b","lon":208.8,"lat":61.1},{"g":"b","lon":210.3,"lat":61.2},{"g":"b","lon":208.8,"lat":59.7},{"g":"b","lon":209.9,"lat":59.3},{"g":"b","lon":212.9,"lat":60.5},{"g":"b","lon":219.5,"lat":59.8},{"g":"b","lon":222.4,"lat":58.7},{"g":"b","lon":224.6,"lat":57.4},{"g":"b","lon":225,"lat":58.5},{"g":"b","lon":226.1,"lat":57.1},{"g":"b","lon":228.3,"lat":55.9},{"g":"b","lon":230.2,"lat":54.8},{"g":"b","lon":231.3,"lat":51.8},{"g":"b","lon":232.7,"lat":50.8},{"g":"b","lon":237.2,"lat":49.5},{"g":"b","lon":237.9,"lat":47.7},{"g":"b","lon":236.4,"lat":46.2},{"g":"b","lon":235.7,"lat":43.1},{"g":"b","lon":236.1,"lat":39.9},{"g":"b","lon":237.9,"lat":37.4},{"g":"b","lon":239.4,"lat":34.9},{"g":"b","lon":242.7,"lat":33.7},{"g":"b","lon":243.4,"lat":32},{"g":"b","lon":244.5,"lat":29.2},{"g":"b","lon":246.4,"lat":27},{"g":"b","lon":248.6,"lat":25.1},
{"g":"c","lon":249.7,"lat":25.1},{"g":"c","lon":248.6,"lat":26.6},{"g":"c","lon":246.7,"lat":28.5},{"g":"c","lon":245.6,"lat":30.1},{"g":"c","lon":245.3,"lat":31.5},{"g":"c","lon":247.1,"lat":31.4},{"g":"c","lon":247.6,"lat":29.5},{"g":"c","lon":249.7,"lat":27.9},{"g":"c","lon":250.8,"lat":26},{"g":"c","lon":252.3,"lat":25.1},
{"g":"d","lon":218,"lat":69.9},{"g":"d","lon":223.9,"lat":68.8},{"g":"d","lon":225.4,"lat":69.5},{"g":"d","lon":230.5,"lat":69.9},
{"g":"e","lon":238.6,"lat":69.8},{"g":"e","lon":245.3,"lat":69.1},{"g":"e","lon":245.6,"lat":68.2},{"g":"e","lon":251.2,"lat":68.3},{"g":"e","lon":251.9,"lat":67.7},{"g":"e","lon":260,"lat":67.6},
{"g":"f","lon":243.8,"lat":69.8},{"g":"f","lon":249,"lat":69.1},{"g":"f","lon":254.8,"lat":69.5},{"g":"f","lon":260,"lat":69.9},
{"g":"h","lon":235.3,"lat":66.1},{"g":"h","lon":240.8,"lat":67.1},{"g":"h","lon":242.3,"lat":66.3},{"g":"h","lon":239.4,"lat":64.9},{"g":"h","lon":237.2,"lat":65},{"g":"h","lon":238.6,"lat":65.8},{"g":"h","lon":235.3,"lat":66.1},
{"g":"i","lon":243.4,"lat":61.1},{"g":"i","lon":245.3,"lat":62.3},{"g":"i","lon":251.2,"lat":62.8},{"g":"i","lon":249,"lat":61.9},{"g":"i","lon":245.6,"lat":60.9},{"g":"i","lon":243.4,"lat":61.1},
{"g":"j","lon":249,"lat":58.7},{"g":"j","lon":250.8,"lat":59.7},{"g":"j","lon":252.6,"lat":59.3},{"g":"j","lon":250.1,"lat":58.6},{"g":"j","lon":249,"lat":58.7},
{"g":"k","lon":257.4,"lat":56.5},{"g":"k","lon":258.2,"lat":58.1},{"g":"k","lon":258.5,"lat":57.1},{"g":"k","lon":257.4,"lat":56.5},
{"g":"l","lon":259.3,"lat":53},{"g":"l","lon":260,"lat":53.2},{"g":"l","lon":259.6,"lat":51.8},
{"g":"m","lon":103.8,"lat":51.6},{"g":"m","lon":106,"lat":52.1},{"g":"m","lon":108.6,"lat":53.7},{"g":"m","lon":109.6,"lat":55.7},{"g":"m","lon":109.7,"lat":54.6},{"g":"m","lon":108.2,"lat":52.9},{"g":"m","lon":105.7,"lat":51.4},{"g":"m","lon":103.8,"lat":51.6},
{"g":"n","lon":142.9,"lat":54.3},{"g":"n","lon":141.8,"lat":51.8},{"g":"n","lon":143.6,"lat":49.2},{"g":"n","lon":144,"lat":47},{"g":"n","lon":142.9,"lat":46.6},{"g":"n","lon":141.8,"lat":48.6},{"g":"n","lon":142.1,"lat":51.8},{"g":"n","lon":142.9,"lat":54.3},
{"g":"o","lon":141.4,"lat":45.3},{"g":"o","lon":142.9,"lat":44.7},{"g":"o","lon":145.8,"lat":43.9},{"g":"o","lon":143.2,"lat":42.1},{"g":"o","lon":140.7,"lat":41.8},{"g":"o","lon":140.3,"lat":42.8},{"g":"o","lon":141.8,"lat":43.5},{"g":"o","lon":141.4,"lat":45.3},
{"g":"p","lon":141,"lat":41},{"g":"p","lon":141.6,"lat":38.6},{"g":"p","lon":140.7,"lat":37.4},{"g":"p","lon":140.3,"lat":35},{"g":"p","lon":136.2,"lat":34.5},{"g":"p","lon":131.8,"lat":34.2},{"g":"p","lon":130,"lat":33.3},{"g":"p","lon":133.3,"lat":34.2},{"g":"p","lon":135.5,"lat":36.3},{"g":"p","lon":137,"lat":37.4},{"g":"p","lon":139.9,"lat":39.3},{"g":"p","lon":141,"lat":41},
{"g":"q","lon":130,"lat":33.3},{"g":"q","lon":130.3,"lat":31.2},{"g":"q","lon":131.5,"lat":31.2},{"g":"q","lon":132.9,"lat":33.3},{"g":"q","lon":130,"lat":33.3},
{"g":"r","lon":133.3,"lat":33.6},{"g":"r","lon":136.2,"lat":33.9},{"g":"r","lon":134.8,"lat":33.1},{"g":"r","lon":133.3,"lat":33.6},
{"g":"s","lon":147.7,"lat":45},{"g":"s","lon":148.8,"lat":45.4},{"g":"t","lon":149.9,"lat":45.9},{"g":"t","lon":150.6,"lat":46.2},{"g":"u","lon":155,"lat":50},{"g":"u","lon":156.1,"lat":50.7},
{"g":"v","lon":181.9,"lat":51.8},{"g":"v","lon":183.4,"lat":51.8},{"g":"w","lon":185.2,"lat":52.2},{"g":"w","lon":186,"lat":52.4},
{"g":"x","lon":188.2,"lat":63.6},{"g":"x","lon":191.1,"lat":63.3},{"g":"x","lon":189.6,"lat":63.1},{"g":"x","lon":188.2,"lat":63.6},
{"g":"y","lon":162.8,"lat":59.8},{"g":"y","lon":164.6,"lat":60},{"g":"y","lon":163.9,"lat":58.9},{"g":"y","lon":162.8,"lat":58.9},{"g":"y","lon":162.8,"lat":59.8}
]},"mark":{"type":"line","color":"#888","strokeWidth":1,"clip":true,"order":false},"encoding":{"detail":{"field":"g"},
"x":{"field":"lon","type":"quantitative","scale":{"domain":[100,260],"nice":false,"zero":false},"axis":{"orient":"top","values":[100,120,140,160,180,200,220,240,260],"tickSize":14,"labels":false}},
"y":{"field":"lat","type":"quantitative","scale":{"domain":[25,70],"nice":false,"zero":false},"axis":{"orient":"right","values":[25,30,35,40,45,50,55,60,65,70],"tickSize":14,"labels":false}}}},
{"data":{"values":[
{"a":160,"b":195,"c":55,"d":40,"k":"r"},{"a":197,"b":236,"c":35,"d":25,"k":"r"},{"a":155,"b":195,"c":40,"d":27,"k":"b"},{"a":197,"b":230,"c":52,"d":35,"k":"b"}
]},"mark":{"type":"rect","fillOpacity":0,"strokeWidth":4},"encoding":{
"x":{"field":"a","type":"quantitative","scale":{"domain":[100,260],"nice":false,"zero":false},"axis":null},"x2":{"field":"b"},
"y":{"field":"c","type":"quantitative","scale":{"domain":[25,70],"nice":false,"zero":false},"axis":null},"y2":{"field":"d"},
"stroke":{"field":"k","type":"nominal","legend":null,"scale":{"domain":["r","b"],"range":["#ee2328","#34509f"]}}}}
]},
{"width":27,"height":475,"data":{"values":[
{"i":0,"j":1,"v":-0.33},{"i":1,"j":2,"v":-0.28},{"i":2,"j":3,"v":-0.22},{"i":3,"j":4,"v":-0.17},{"i":4,"j":5,"v":-0.12},{"i":5,"j":6,"v":0},{"i":6,"j":7,"v":0.12},{"i":7,"j":8,"v":0.17},{"i":8,"j":9,"v":0.22},{"i":9,"j":10,"v":0.28},{"i":10,"j":11,"v":0.33}
]},"mark":{"type":"rect","stroke":"#111","strokeWidth":1.5},"encoding":{
"y":{"field":"i","type":"quantitative","scale":{"domain":[0,11],"nice":false,"zero":false},"axis":{"orient":"right","values":[0,1,2,3,4,5,6,7,8,9,10,11],"domain":false,"ticks":false,"labelFontSize":10,"labelColor":"#777","labelPadding":7,"labelOffset":-4,"labelExpr":"['−0.36','−0.306','−0.252','−0.198','−0.144','−0.09','0.09','0.144','0.198','0.252','0.306','0.36'][datum.value]"}},"y2":{"field":"j"},
"color":{"field":"v","type":"quantitative","legend":null,"scale":{"type":"threshold","domain":[-0.306,-0.252,-0.198,-0.144,-0.09,0.09,0.144,0.198,0.252,0.306],"range":["#25215f","#2e4a9e","#3a63ae","#33baed","#8fd5e0","#ffffff","#f2ee6f","#f9b51b","#f4651f","#ee2324","#7a1214"]}}}},
{"width":724,"height":240,"resolve":{"scale":{"y":"independent"},"axis":{"x":"independent","y":"independent"}},"layer":[
{"data":{"values":[{"z":0.15,"t0":1980,"t1":2005}]},"mark":{"type":"rule","color":"#000","strokeWidth":4},"encoding":{"x":{"field":"t0","type":"quantitative","scale":{"domain":[1980,2005],"range":[11,687],"nice":false,"zero":false},"axis":null},"x2":{"field":"t1"},"y":{"field":"z","type":"quantitative","scale":{"domain":[-12,12],"nice":false,"zero":false},"axis":null}}},
{"data":{"values":[
{"t":1980.53,"co2":-5.11},{"t":1980.65,"co2":-6.61},{"t":1980.77,"co2":-7.71},{"t":1980.9,"co2":-6.44},{"t":1981.02,"co2":-4.27},{"t":1981.27,"co2":-2.77},{"t":1981.45,"co2":-1.1},{"t":1981.57,"co2":1.23},{"t":1981.72,"co2":3.24},{"t":1981.82,"co2":3.74},{"t":1982,"co2":2.74},{"t":1982.25,"co2":3.4},{"t":1982.43,"co2":4.07},{"t":1982.68,"co2":3.57},{"t":1982.86,"co2":4.57},{"t":1983.07,"co2":5.74},{"t":1983.23,"co2":4.57},{"t":1983.42,"co2":3.57},{"t":1983.6,"co2":4.24},{"t":1983.78,"co2":5.24},{"t":1984.03,"co2":7.24},{"t":1984.3,"co2":9.75},{"t":1984.52,"co2":9.08},{"t":1984.71,"co2":7.24},{"t":1984.83,"co2":4.57},{"t":1984.91,"co2":2.24},{"t":1985.07,"co2":0.57},{"t":1985.2,"co2":-1.44},{"t":1985.41,"co2":-2.6},{"t":1985.63,"co2":-1.1},{"t":1985.81,"co2":2.57},{"t":1986,"co2":4.91},{"t":1986.24,"co2":7.08},{"t":1986.49,"co2":7.74},{"t":1986.71,"co2":7.84},{"t":1986.92,"co2":6.74},{"t":1987.16,"co2":4.57},{"t":1987.35,"co2":4.07},{"t":1987.59,"co2":2.74},{"t":1987.71,"co2":2.07},{"t":1987.86,"co2":0.97},{"t":1988.08,"co2":2.07},{"t":1988.33,"co2":2.24},{"t":1988.51,"co2":2.4},{"t":1988.64,"co2":1.23},{"t":1988.82,"co2":0.97},{"t":1989,"co2":-0.43},{"t":1989.29,"co2":-4.11},{"t":1989.5,"co2":-6.11},{"t":1989.68,"co2":-8.78},{"t":1989.93,"co2":-11.28},{"t":1990.11,"co2":-9.78},{"t":1990.36,"co2":-6.44},{"t":1990.64,"co2":-3.87},{"t":1990.85,"co2":-4.44},{"t":1991.06,"co2":-9.45},{"t":1991.22,"co2":-9.78},{"t":1991.52,"co2":-10.85},{"t":1991.71,"co2":-10.11},{"t":1991.87,"co2":-7.11},{"t":1991.99,"co2":-3.6},{"t":1992.16,"co2":-3.27},{"t":1992.44,"co2":-0.43},{"t":1992.63,"co2":3.57},{"t":1992.8,"co2":5.4},{"t":1993.11,"co2":5.74},{"t":1993.29,"co2":3.57},{"t":1993.48,"co2":1.9},{"t":1993.72,"co2":0.73},{"t":1993.96,"co2":-0.77},{"t":1994.15,"co2":-1.77},{"t":1994.37,"co2":-0.6},{"t":1994.57,"co2":-2.1},{"t":1994.88,"co2":-4.94},{"t":1995.06,"co2":-3.77},{"t":1995.18,"co2":-2.77},{"t":1995.37,"co2":-2.6},{"t":1995.51,"co2":0.9},{"t":1995.67,"co2":4.24},{"t":1995.91,"co2":7.41},{"t":1996.28,"co2":7.24},{"t":1996.49,"co2":6.24},{"t":1996.65,"co2":3.91},{"t":1996.89,"co2":1.23},{"t":1997.2,"co2":1.3},{"t":1997.44,"co2":1.4},{"t":1997.6,"co2":-0.17},{"t":1997.74,"co2":1.4},{"t":1997.93,"co2":-0.1},{"t":1998.17,"co2":2.4},{"t":1998.41,"co2":2.24},{"t":1998.6,"co2":3.24},{"t":1998.84,"co2":2.4},{"t":1999.02,"co2":0.4},{"t":1999.21,"co2":-2.94},{"t":1999.39,"co2":-2.44},{"t":1999.7,"co2":-2.5},{"t":1999.94,"co2":-0.43},{"t":2000.22,"co2":1.57},{"t":2000.49,"co2":0.4},{"t":2000.67,"co2":-0.6},{"t":2000.85,"co2":-2.1},{"t":2001.04,"co2":-1.1},{"t":2001.22,"co2":-1.94},{"t":2001.4,"co2":-1.94},{"t":2001.65,"co2":-3.44},{"t":2001.95,"co2":-4.11},{"t":2002.2,"co2":-5.71},{"t":2002.38,"co2":-5.61},{"t":2002.62,"co2":-3.77},{"t":2002.8,"co2":-2.77},{"t":2003.05,"co2":-1.77},{"t":2003.23,"co2":-0.43},{"t":2003.48,"co2":2.4},{"t":2003.84,"co2":2.57},{"t":2004.09,"co2":3.07},{"t":2004.27,"co2":1.23},{"t":2004.37,"co2":-0.7}
]},"mark":{"type":"line","color":"#111","strokeWidth":2.4,"interpolate":"monotone"},"encoding":{
"x":{"field":"t","type":"quantitative","scale":{"domain":[1980,2005],"range":[11,687],"nice":false,"zero":false},"axis":{"orient":"bottom","values":[1980,1985,1990,1995,2000,2005],"tickSize":13,"labelFontSize":19,"labelColor":"#444","labelPadding":9,"labelExpr":"datum.value<2005?datum.value:''"}},
"y":{"field":"co2","type":"quantitative","scale":{"domain":[-12,12],"nice":false,"zero":false},"axis":{"orient":"left","offset":-11,"title":"dpCO2","titleFont":"Liberation Serif","titleFontSize":34,"titleFontWeight":"normal","titleColor":"#555","titleAngle":270,"titlePadding":9,"values":[-12,-10,-8,-6,-4,-2,0,2,4,6,8,10,12],"tickSize":12,"labelFontSize":13,"labelColor":"#333","labelPadding":8,"labelExpr":"datum.value%4==0?replace(format(datum.value,'.1f'),'-','−'):''"}}}},
{"data":{"values":[
{"t":1980.53,"pdo":0.64},{"t":1980.77,"pdo":0.65},{"t":1980.96,"pdo":0.88},{"t":1981.14,"pdo":0.9},{"t":1981.35,"pdo":0.84},{"t":1981.51,"pdo":0.9},{"t":1981.7,"pdo":0.76},{"t":1981.88,"pdo":0.4},{"t":1982,"pdo":0.17},{"t":1982.25,"pdo":0.23},{"t":1982.49,"pdo":0.13},{"t":1982.68,"pdo":0.29},{"t":1982.86,"pdo":0.74},{"t":1983.07,"pdo":1.32},{"t":1983.29,"pdo":1.4},{"t":1983.6,"pdo":1.72},{"t":1983.78,"pdo":1.68},{"t":1983.97,"pdo":1.46},{"t":1984.15,"pdo":0.99},{"t":1984.46,"pdo":0.85},{"t":1984.71,"pdo":0.71},{"t":1984.91,"pdo":0.46},{"t":1985.14,"pdo":0.64},{"t":1985.32,"pdo":0.57},{"t":1985.5,"pdo":0.43},{"t":1985.69,"pdo":0.57},{"t":1985.87,"pdo":0.82},{"t":1986.06,"pdo":0.91},{"t":1986.27,"pdo":0.88},{"t":1986.49,"pdo":1.26},{"t":1986.73,"pdo":1.32},{"t":1987.04,"pdo":1.43},{"t":1987.29,"pdo":1.84},{"t":1987.47,"pdo":1.82},{"t":1987.71,"pdo":1.62},{"t":1988.02,"pdo":1.43},{"t":1988.27,"pdo":0.9},{"t":1988.51,"pdo":0.52},{"t":1988.76,"pdo":-0.12},{"t":1988.94,"pdo":-0.19},{"t":1989.25,"pdo":-0.16},{"t":1989.43,"pdo":-0.18},{"t":1989.74,"pdo":-0.05},{"t":1990.05,"pdo":-0.07},{"t":1990.23,"pdo":-0.09},{"t":1990.54,"pdo":-0.48},{"t":1990.79,"pdo":-0.65},{"t":1991.06,"pdo":-0.91},{"t":1991.22,"pdo":-0.9},{"t":1991.4,"pdo":-0.54},{"t":1991.71,"pdo":0.02},{"t":1992.01,"pdo":0.74},{"t":1992.26,"pdo":0.88},{"t":1992.51,"pdo":0.93},{"t":1992.68,"pdo":0.93},{"t":1992.93,"pdo":1.04},{"t":1993.23,"pdo":1.29},{"t":1993.41,"pdo":1.37},{"t":1993.72,"pdo":1.56},{"t":1993.9,"pdo":1.48},{"t":1994.09,"pdo":1.12},{"t":1994.27,"pdo":0.46},{"t":1994.49,"pdo":-0.2},{"t":1994.7,"pdo":-0.32},{"t":1994.94,"pdo":-0.29},{"t":1995.12,"pdo":-0.04},{"t":1995.3,"pdo":0.4},{"t":1995.51,"pdo":0.74},{"t":1995.88,"pdo":0.89},{"t":1996.28,"pdo":0.65},{"t":1996.59,"pdo":0.6},{"t":1996.83,"pdo":0.5},{"t":1997.01,"pdo":0.68},{"t":1997.29,"pdo":1.32},{"t":1997.5,"pdo":1.48},{"t":1997.77,"pdo":1.73},{"t":1997.95,"pdo":1.48},{"t":1998.17,"pdo":0.74},{"t":1998.41,"pdo":0.29},{"t":1998.6,"pdo":0.02},{"t":1998.9,"pdo":-0.59},{"t":1999.21,"pdo":-0.79},{"t":1999.57,"pdo":-1.21},{"t":1999.94,"pdo":-0.97},{"t":2000.15,"pdo":-0.97},{"t":2000.37,"pdo":-0.59},{"t":2000.61,"pdo":-0.27},{"t":2000.98,"pdo":-0.37},{"t":2001.28,"pdo":-0.38},{"t":2001.59,"pdo":-0.7},{"t":2001.95,"pdo":-0.76},{"t":2002.13,"pdo":-0.4},{"t":2002.38,"pdo":0.1},{"t":2002.62,"pdo":0.68},{"t":2002.87,"pdo":1.07},{"t":2003.11,"pdo":1.18},{"t":2003.29,"pdo":1.15},{"t":2003.54,"pdo":0.79},{"t":2003.78,"pdo":0.6},{"t":2004.15,"pdo":0.52},{"t":2004.37,"pdo":0.38}
]},"mark":{"type":"line","color":"#ee2a33","strokeWidth":2.2,"interpolate":"monotone"},"encoding":{
"x":{"field":"t","type":"quantitative","scale":{"domain":[1980,2005],"range":[11,687],"nice":false,"zero":false},"axis":{"orient":"top","values":[1980,1985,1990,1995,2000,2005],"tickSize":13,"labels":false}},
"y":{"field":"pdo","type":"quantitative","scale":{"domain":[-2,2],"nice":false,"zero":false},"axis":{"orient":"right","offset":-37,"title":"PDO","titleFont":"Liberation Serif","titleFontSize":34,"titleFontWeight":"normal","titleColor":"#555","titleAngle":270,"titlePadding":56,"values":[-2,-1.5,-1,-0.5,0,0.5,1,1.5,2],"tickSize":12,"labelFontSize":13,"labelColor":"#333","labelAlign":"right","labelPadding":40,"labelExpr":"datum.value%1==0?replace(format(datum.value,'.1f'),'-','−'):''"}}}},
{"data":{"values":[{"t":2001,"r":-8.7,"label":"r=0.5475"}]},"mark":{"type":"text","font":"Liberation Serif","fontSize":36,"color":"#555","align":"center","baseline":"middle"},"encoding":{"text":{"field":"label"},
"x":{"field":"t","type":"quantitative","scale":{"domain":[1980,2005],"range":[11,687],"nice":false,"zero":false},"axis":{"orient":"bottom","values":[1981,1982,1983,1984,1986,1987,1988,1989,1991,1992,1993,1994,1996,1997,1998,1999,2001,2002,2003,2004],"tickSize":7,"labels":false}},
"y":{"field":"r","type":"quantitative","scale":{"domain":[-12,12],"nice":false,"zero":false},"axis":null}}},
{"data":{"values":[{"t":2001,"r":-8.7}]},"mark":{"type":"point","opacity":0},"encoding":{
"x":{"field":"t","type":"quantitative","scale":{"domain":[1980,2005],"range":[11,687],"nice":false,"zero":false},"axis":{"orient":"top","values":[1981,1982,1983,1984,1986,1987,1988,1989,1991,1992,1993,1994,1996,1997,1998,1999,2001,2002,2003,2004],"tickSize":7,"labels":false}},
"y":{"field":"r","type":"quantitative","scale":{"domain":[-12,12],"nice":false,"zero":false},"axis":null}}}
]}]}
